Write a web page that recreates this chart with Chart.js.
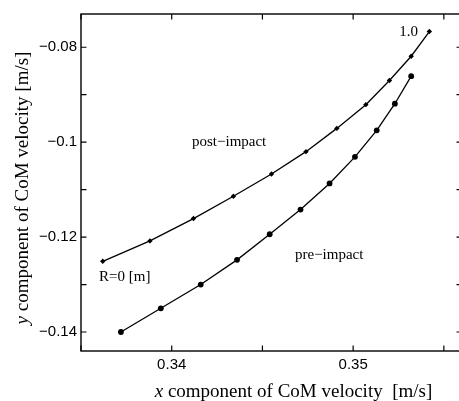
<!DOCTYPE html>
<html>
<head>
<meta charset="utf-8">
<script src="https://cdn.jsdelivr.net/npm/chart.js@4/dist/chart.umd.min.js"></script>
<style>
  html, body { margin: 0; padding: 0; background: #fff; overflow: hidden; }
  #wrap { width: 462px; height: 401px; }
</style>
</head>
<body>
<div id="wrap"><canvas id="c" width="462" height="401"></canvas></div>
<script>
// ---- data ----
const postX = [0.3362, 0.3388, 0.3412, 0.3434, 0.3455, 0.3474, 0.3491, 0.3507, 0.3520, 0.3532, 0.3542];
const postY = [-0.1251, -0.1208, -0.1161, -0.1114, -0.1067, -0.1020, -0.0971, -0.0921, -0.0870, -0.0819, -0.0767];
const preX  = [0.3372, 0.3394, 0.3416, 0.3436, 0.3454, 0.3471, 0.3487, 0.3501, 0.3513, 0.3523, 0.3532];
const preY  = [-0.1400, -0.1350, -0.1300, -0.1248, -0.1194, -0.1142, -0.1087, -0.1031, -0.0975, -0.0919, -0.0861];

const xMajorTicks = [0.34, 0.35];
const xMinorTicks = [0.335, 0.345, 0.355];
const yMajorTicks = [-0.14, -0.12, -0.1, -0.08];
const yMinorTicks = [-0.13, -0.11, -0.09];

const xTitleItalic = 'x';
const xTitleRest = ' component of CoM velocity  [m/s]';
const yTitleItalic = 'y';
const yTitleRest = ' component of CoM velocity [m/s]';

const labels = [
  { text: '1.0', x: 418, y: 35.5, align: 'right' },
  { text: 'post\u2212impact', x: 192, y: 145.5, align: 'left' },
  { text: 'R=0 [m]', x: 99, y: 281, align: 'left' },
  { text: 'pre\u2212impact', x: 295, y: 258.5, align: 'left' }
];

const serif = '"Liberation Serif", "Times New Roman", serif';
const sans = '"Liberation Sans", Arial, Helvetica, sans-serif';

function fmtTick(v) {
  const a = Math.abs(Math.round(v * 1000) / 1000);
  return (v < 0 ? '\u2212' : '') + String(a);
}

const framePlugin = {
  id: 'frame',
  afterDraw(chart) {
    const ctx = chart.ctx;
    const ca = chart.chartArea;
    const xs = chart.scales.x, ys = chart.scales.y;
    ctx.save();
    ctx.strokeStyle = '#000';
    ctx.lineWidth = 1.4;
    ctx.strokeRect(ca.left, ca.top, ca.right - ca.left, ca.bottom - ca.top);
    ctx.lineWidth = 1.2;
    const tl = 5.5;
    ctx.beginPath();
    xMajorTicks.concat(xMinorTicks).forEach(v => {
      const px = xs.getPixelForValue(v);
      ctx.moveTo(px, ca.bottom); ctx.lineTo(px, ca.bottom - tl);
      ctx.moveTo(px, ca.top); ctx.lineTo(px, ca.top + tl);
    });
    yMajorTicks.concat(yMinorTicks).forEach(v => {
      const py = ys.getPixelForValue(v);
      ctx.moveTo(ca.left, py); ctx.lineTo(ca.left + tl, py);
      ctx.moveTo(ca.right, py); ctx.lineTo(ca.right - tl, py);
    });
    ctx.stroke();

    // annotations
    ctx.fillStyle = '#000';
    ctx.font = '15px ' + serif;
    ctx.textBaseline = 'alphabetic';
    labels.forEach(l => {
      ctx.textAlign = l.align;
      ctx.fillText(l.text, l.x, l.y);
    });

    // axis titles (italic variable + roman rest)
    const fs = 19;
    const itFont = 'italic ' + fs + 'px ' + serif;
    const rmFont = fs + 'px ' + serif;
    ctx.textAlign = 'left';
    // x title
    ctx.font = itFont; const wxi = ctx.measureText(xTitleItalic).width;
    ctx.font = rmFont; const wxr = ctx.measureText(xTitleRest).width;
    let sx = 293.5 - (wxi + wxr) / 2;
    ctx.font = itFont; ctx.fillText(xTitleItalic, sx, 396.5);
    ctx.font = rmFont; ctx.fillText(xTitleRest, sx + wxi, 396.5);
    // y title
    ctx.save();
    ctx.translate(28, 188);
    ctx.rotate(-Math.PI / 2);
    ctx.font = itFont; const wyi = ctx.measureText(yTitleItalic).width;
    ctx.font = rmFont; const wyr = ctx.measureText(yTitleRest).width;
    let sy = -(wyi + wyr) / 2;
    ctx.font = itFont; ctx.fillText(yTitleItalic, sy, 0);
    ctx.font = rmFont; ctx.fillText(yTitleRest, sy + wyi, 0);
    ctx.restore();
    ctx.restore();
  }
};

new Chart(document.getElementById('c'), {
  type: 'scatter',
  data: {
    datasets: [
      {
        label: 'post-impact',
        data: postX.map((x, i) => ({ x: x, y: postY[i] })),
        showLine: true,
        borderColor: '#000',
        backgroundColor: '#000',
        borderWidth: 1.3,
        pointStyle: 'rectRot',
        pointRadius: 2.7,
        pointBorderWidth: 0,
        tension: 0
      },
      {
        label: 'pre-impact',
        data: preX.map((x, i) => ({ x: x, y: preY[i] })),
        showLine: true,
        borderColor: '#000',
        backgroundColor: '#000',
        borderWidth: 1.3,
        pointStyle: 'circle',
        pointRadius: 2.9,
        pointBorderWidth: 0,
        tension: 0
      }
    ]
  },
  options: {
    responsive: false,
    animation: false,
    devicePixelRatio: 1,
    layout: { autoPadding: false, padding: { top: 14, right: 0, left: 0, bottom: 0 } },
    plugins: { legend: { display: false }, tooltip: { enabled: false } },
    scales: {
      x: {
        type: 'linear',
        min: 0.335,
        max: 0.356,
        afterBuildTicks: s => { s.ticks = xMajorTicks.map(v => ({ value: v })); },
        afterFit: s => { s.height = 50; s.paddingLeft = 0; s.paddingRight = 0; },
        grid: { display: false, drawTicks: false },
        border: { display: false },
        ticks: {
          callback: v => fmtTick(v),
          font: { family: sans, size: 15 },
          color: '#000',
          padding: 5,
          maxRotation: 0,
          autoSkip: false
        }
      },
      y: {
        type: 'linear',
        min: -0.144,
        max: -0.073,
        afterBuildTicks: s => { s.ticks = yMajorTicks.map(v => ({ value: v })); },
        afterFit: s => { s.width = 81; s.paddingTop = 0; s.paddingBottom = 0; },
        grid: { display: false, drawTicks: false },
        border: { display: false },
        ticks: {
          callback: v => fmtTick(v),
          font: { family: sans, size: 15 },
          color: '#000',
          padding: 4,
          autoSkip: false
        }
      }
    }
  },
  plugins: [framePlugin]
});
</script>
</body>
</html>
